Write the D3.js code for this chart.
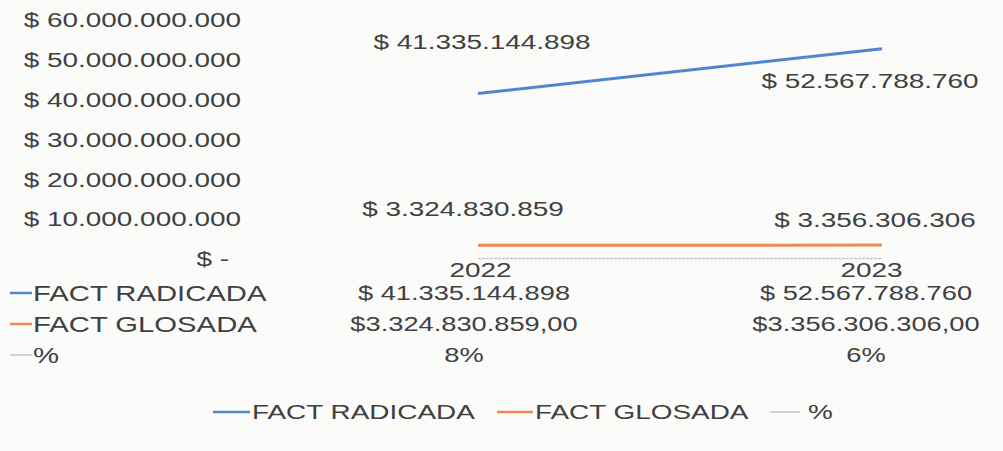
<!DOCTYPE html>
<html><head><meta charset="utf-8">
<script src="https://cdn.jsdelivr.net/npm/d3@7"></script>
<style>
html,body{margin:0;padding:0;background:#fbfbfa;}
text{font-family:"Liberation Sans",Arial,sans-serif;fill:#404040;}
</style></head>
<body>
<svg id="chart" width="1003" height="451"></svg>
<script>
const categories = ["2022", "2023"];
const radicada = [41335144898, 52567788760];
const glosada = [3324830859, 3356306306];
const pct = [0.08, 0.06];
const seriesNames = ["FACT RADICADA", "FACT GLOSADA", "%"];
const yTicks = [0, 10e9, 20e9, 30e9, 40e9, 50e9, 60e9];
const radicadaTable = ["$ 41.335.144.898", "$ 52.567.788.760"];
const glosadaTable = ["$3.324.830.859,00", "$3.356.306.306,00"];
const pctTable = ["8%", "6%"];

const colors = ["#4f86cf", "#ee8a4f", "#c4c4c4"];
const W = 1003, H = 451;
const SX = 1.33;       // horizontal stretch of the scanned text
const FS = "21px";
const svg = d3.select("#chart");
svg.append("rect").attr("width", W).attr("height", H).attr("fill", "#fbfbfa");

const y = d3.scaleLinear().domain([0, 60e9]).range([258.5, 19]);
const x = d3.scalePoint().domain(categories).range([478, 882]);
const xCat = d3.scalePoint().domain(categories).range([480, 871]);
const xTab = d3.scalePoint().domain(categories).range([464, 866]);

function label(X, Y, t, anchor, size) {
  return svg.append("text")
    .attr("transform", `translate(${X},${Y}) scale(${SX},1)`)
    .attr("text-anchor", anchor || "middle").attr("dominant-baseline", "central")
    .style("font-size", size || FS).text(t);
}

const fmtThousands = v => v.toString().replace(/\B(?=(\d{3})+(?!\d))/g, ".");
const yAxis = d3.axisLeft(y).tickValues(yTicks).tickSize(0).tickPadding(0)
  .tickFormat(v => v === 0 ? "$ -" : "$ " + fmtThousands(v));
const gy = svg.append("g").attr("transform", "translate(241,0)").call(yAxis);
gy.select(".domain").remove();
gy.selectAll("text").style("font-size", FS).attr("fill", "#404040")
  .style("font-family", "'Liberation Sans',Arial,sans-serif")
  .attr("dy", "0.35em")
  .attr("transform", d => d === 0 ? `translate(-12,0) scale(${SX},1)` : `scale(${SX},1)`);

// lines
const line = d3.line().x((d, i) => x(categories[i])).y(d => y(d));
const series = [radicada, glosada, pct];
series.forEach((s, k) => {
  svg.append("path").datum(s).attr("d", line).attr("fill", "none")
    .attr("stroke", colors[k]).attr("stroke-width", k === 2 ? 1.5 : 3)
    .attr("stroke-dasharray", k === 2 ? "3,1" : null);
});

// data labels
const labelOffsets = [[[4, -52], [-12, 32]], [[-15, -36], [-7, -25]]];
[radicada, glosada].forEach((s, k) => {
  s.forEach((v, i) => {
    label(x(categories[i]) + labelOffsets[k][i][0], y(v) + labelOffsets[k][i][1],
      "$ " + fmtThousands(v));
  });
});

// category labels
const xAxis = d3.axisBottom(xCat).tickSize(0).tickPadding(0);
const gx = svg.append("g").attr("transform", "translate(0,270)").call(xAxis);
gx.select(".domain").remove();
gx.selectAll("text").style("font-size", FS).attr("fill", "#404040")
  .style("font-family", "'Liberation Sans',Arial,sans-serif")
  .attr("dy", "0.35em").attr("y", 0)
  .attr("transform", `scale(${SX},1)`);

// data table
const tableRows = [radicadaTable, glosadaTable, pctTable];
const rowY = [293, 324, 355];
tableRows.forEach((row, r) => {
  svg.append("line").attr("x1", 10).attr("x2", 32).attr("y1", rowY[r]).attr("y2", rowY[r])
    .attr("stroke", colors[r]).attr("stroke-width", r === 2 ? 1.5 : 2.5);
  label(33, rowY[r], seriesNames[r], "start", "22px");
  row.forEach((t, i) => label(xTab(categories[i]), rowY[r], t, "middle", "20.5px"));
});

// legend
const legendX = [213, 497, 770];
const legendLen = [37, 36, 30];
seriesNames.forEach((n, k) => {
  svg.append("line").attr("x1", legendX[k]).attr("x2", legendX[k] + legendLen[k])
    .attr("y1", 412).attr("y2", 412).attr("stroke", colors[k]).attr("stroke-width", k === 2 ? 1.5 : 2.5);
  label(legendX[k] + legendLen[k] + (k === 2 ? 8 : 2), 412, n, "start");
});
</script>
</body></html>
